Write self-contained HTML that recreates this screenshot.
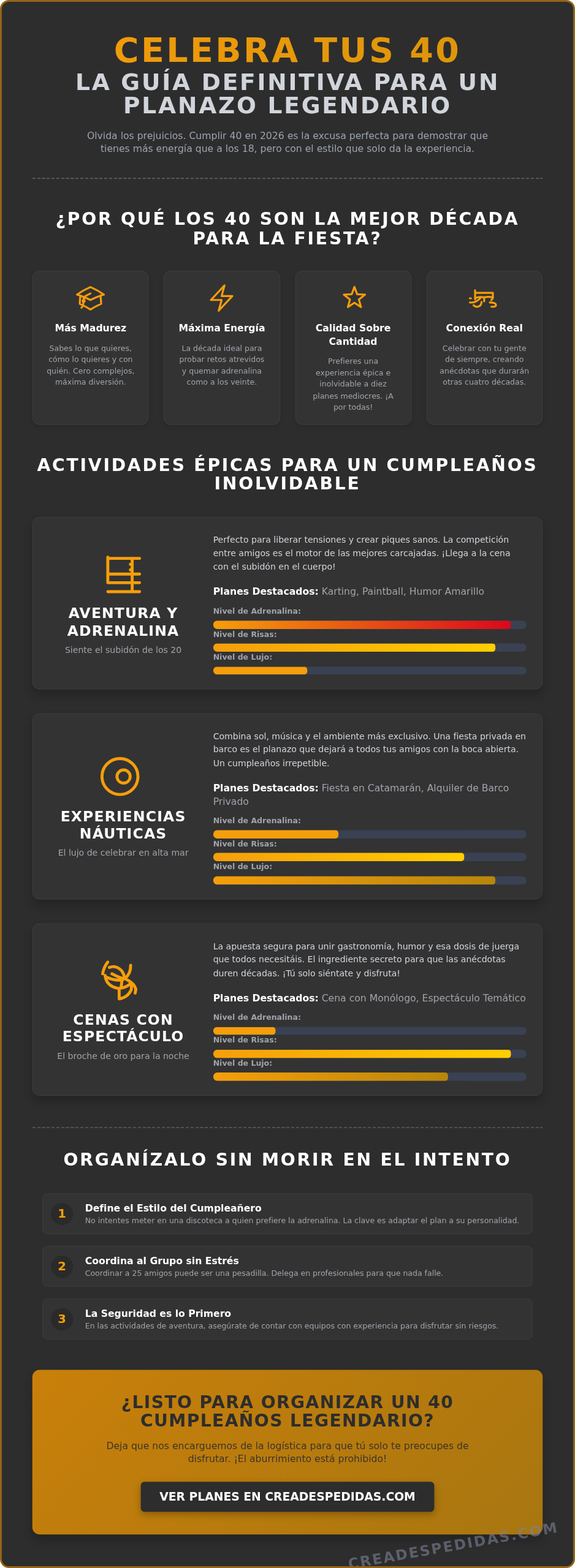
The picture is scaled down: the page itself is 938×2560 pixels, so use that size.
<!DOCTYPE html>
<html lang="es">
<head>
<meta charset="utf-8">
<title>Celebra tus 40 - La guía definitiva para un planazo legendario</title>
<style>
*{box-sizing:border-box;margin:0;padding:0}
html,body{background:#fff}
body{font-family:"DejaVu Sans","Liberation Sans",sans-serif;color:#e5e7eb;width:938px;height:2560px;overflow:hidden}
.scale{width:960px;height:2620px;transform:scale(0.977099);transform-origin:0 0}
.wrap{position:relative;width:960px;height:2620px;background:#2d2d2d;border:3px solid #93651a;border-radius:15px;padding:50px 51.2px;overflow:hidden}
header{text-align:center;margin-bottom:52px}
header::after,hr::after{content:"";display:block;height:2px;background:repeating-linear-gradient(90deg,#525861 0 5.4px,transparent 5.4px 8px)}
header::after{margin-top:37.1px}
h1{font-size:56.8px;line-height:61.3px;margin-bottom:4.06px;font-weight:bold;letter-spacing:3.5px;text-transform:uppercase;color:#e8950c;background:linear-gradient(90deg,#f49c0c,#d9940a);-webkit-background-clip:text;background-clip:text;-webkit-text-fill-color:transparent}
.sub{font-size:38.4px;line-height:1;font-weight:bold;letter-spacing:2.88px;text-transform:uppercase;color:#d1d5db;margin-top:2px}
.lead{font-size:16px;line-height:22.4px;color:#9ca3af;max-width:700px;margin:20.4px auto 0}
h2{font-size:28.8px;line-height:1.1;font-weight:bold;letter-spacing:2.88px;text-transform:uppercase;color:#fff;text-align:center}
.grid{display:grid;grid-template-columns:repeat(4,1fr);gap:25px;margin-top:37.7px}
.card{background:#333;border:1px solid #3e4041;border-radius:12px;padding:19px 20px;text-align:center;height:258px;box-shadow:0 4px 6px rgba(0,0,0,.1)}
.card svg{width:52px;height:52px;display:block;margin:0 auto 13.2px}
.card h3{font-size:16px;line-height:22.4px;font-weight:bold;color:#fff;margin-bottom:11.6px}
.card p{font-size:12.8px;line-height:19.2px;color:#9fa3aa}
.acts{margin-top:51.3px}
.act{display:flex;align-items:center;background:#333;border:1px solid #3e4041;border-radius:12px;padding:25.8px 25.6px 23.9px;margin-top:39.7px;box-shadow:0 10px 15px rgba(0,0,0,.2)}
.acts h2+.act{margin-top:39px}
.act.b{padding-bottom:24.7px}
.act .l{flex:0 0 250px;text-align:center}
.act .l svg{width:80px;height:80px;display:block;margin:0 auto 8.5px}
.act .l h3{font-size:24px;line-height:28.8px;font-weight:bold;letter-spacing:1.2px;text-transform:uppercase;color:#fff}
.act .l p{font-size:14.4px;line-height:20.16px;color:#9fa3aa;margin-top:7.5px}
.act .r{flex:1;margin-left:25px}
.act .r .d{font-size:14.4px;line-height:22.4px;color:#d1d5db}
.act .r .p{font-size:16px;line-height:22.4px;color:#9fa3aa;margin-top:20.2px}
.act .r .p b{color:#fff}
.lv{font-size:12.8px;line-height:17.22px;font-weight:bold;color:#9fa3aa}
.lv.f{margin-top:11.36px}
.bar{height:13.8px;border-radius:6.9px;background:#3a4152;margin-top:7.42px;overflow:hidden}
.bar i{display:block;height:100%;border-radius:5px}
hr{border:0;margin:52.1px 0 38px;height:2px}
.steps{margin:39.1px 17px 0}
.step{display:flex;align-items:center;background:#333;border:1px solid #3e4041;border-radius:8px;height:67.6px;padding:1.4px 12.8px 0;margin-bottom:20.4px}
.step .n{flex:0 0 37px;height:37px;border-radius:50%;background:#2a2a2a;color:#f59e0b;font-weight:bold;font-size:20px;line-height:37.6px;text-align:center;margin-right:20px}
.step h4{font-size:16px;line-height:22.4px;font-weight:bold;color:#fff}
.step p{font-size:12.8px;line-height:19.2px;color:#9fa3aa}
.cta{background:linear-gradient(135deg,#c9800a,#a87610);border-radius:12px;text-align:center;padding:38.5px 100px;margin-top:51.7px;height:275.3px;box-shadow:0 10px 15px rgba(0,0,0,.2)}
.cta h2{color:#2d2d2d;letter-spacing:1.44px}
.cta p{color:rgba(45,45,45,.9);font-size:16px;line-height:22.4px;margin-top:14px}
.btn{display:inline-block;background:#2d2d2d;color:#fff;font-weight:bold;font-size:19.2px;line-height:50px;height:50px;width:490.6px;border-radius:6px;text-transform:uppercase;margin-top:26px;box-shadow:0 4px 12px rgba(0,0,0,.25)}
.wm{position:absolute;left:576.1px;top:2564.5px;font-size:24px;line-height:31.4px;font-weight:bold;letter-spacing:2.3px;color:rgba(125,130,150,.6);transform:rotate(-10deg);transform-origin:50% 50%;white-space:nowrap}
</style>
</head>
<body>
<div class="scale">
<div class="wrap">
<header>
<h1>Celebra tus 40</h1>
<div class="sub">La guía definitiva para un<br>planazo legendario</div>
<p class="lead">Olvida los prejuicios. Cumplir 40 en 2026 es la excusa perfecta para demostrar que tienes más energía que a los 18, pero con el estilo que solo da la experiencia.</p>
</header>

<section>
<h2>¿Por qué los 40 son la mejor década<br>para la fiesta?</h2>
<div class="grid">
<div class="card">
<svg viewBox="0 0 24 24" fill="none" stroke="#f59e0b" stroke-width="1.5" stroke-linecap="round" stroke-linejoin="round"><path d="M4.26 10.147a60.436 60.436 0 00-.491 6.347A48.627 48.627 0 0112 20.904a48.627 48.627 0 018.232-4.41 60.46 60.46 0 00-.491-6.347m-15.482 0a50.57 50.57 0 00-2.658-.813A59.905 59.905 0 0112 3.493a59.902 59.902 0 0110.399 5.84c-.896.248-1.783.52-2.658.814m-15.482 0A50.697 50.697 0 0112 13.489a50.702 50.702 0 017.74-3.342M6.75 15a.75.75 0 100-1.5.75.75 0 000 1.5zm0 0v-3.675A55.378 55.378 0 0112 8.443M6.75 15Q6.4 17.8 5.1 19.5"/></svg>
<h3>Más Madurez</h3>
<p>Sabes lo que quieres, cómo lo quieres y con quién. Cero complejos, máxima diversión.</p>
</div>
<div class="card">
<svg viewBox="0 0 24 24" fill="none" stroke="#f59e0b" stroke-width="1.5" stroke-linecap="round" stroke-linejoin="round"><path d="M3.75 13.5l10.5-11.25L12 10.5h8.25L9.75 21.75 12 13.5H3.75z"/></svg>
<h3>Máxima Energía</h3>
<p>La década ideal para probar retos atrevidos y quemar adrenalina como a los veinte.</p>
</div>
<div class="card">
<svg viewBox="0 0 24 24" fill="none" stroke="#f59e0b" stroke-width="1.5" stroke-linecap="round" stroke-linejoin="round"><path d="M12.80 3.40 L14.92 9.09 L20.98 9.34 L16.22 13.11 L17.85 18.96 L12.80 15.60 L7.75 18.96 L9.38 13.11 L4.62 9.34 L10.68 9.09Z"/></svg>
<h3>Calidad Sobre Cantidad</h3>
<p>Prefieres una experiencia épica e inolvidable a diez planes mediocres. ¡A por todas!</p>
</div>
<div class="card">
<svg viewBox="0 0 24 24" fill="none" stroke="#f59e0b" stroke-width="1.5" stroke-linecap="round" stroke-linejoin="round"><path d="M4.7 6V13M4.7 8H18.4V12M5 12c2-1 4-1 7-.5 2-.8 4-.5 6.4 0M.6 12.2h.9M.6 15.4c2 .3 5-.3 8-3.2M11.7 12v2.5M3.5 17.6c2 2 6 1.5 6.2-2.6M16 15.4c2 0 4.8.3 4.8 2 0 1.2-1.5 1.5-3.5 1.3M18.4 12l-1.200 1.700"/></svg>
<h3>Conexión Real</h3>
<p>Celebrar con tu gente de siempre, creando anécdotas que durarán otras cuatro décadas.</p>
</div>
</div>
</section>

<section class="acts">
<h2>Actividades épicas para un cumpleaños<br>inolvidable</h2>

<div class="act">
<div class="l">
<svg viewBox="0 0 24 24" fill="none" stroke="#f59e0b" stroke-width="1.5" stroke-linecap="round" stroke-linejoin="round"><path d="M4.2 2.7V15.5H20.1M4.2 3.3H20.1M4.2 11.15H20.1M4.2 20H20.1M16.4 3.3V20M15.5 6.2v.1M15.5 9v.1"/></svg>
<h3>Aventura y<br>adrenalina</h3>
<p>Siente el subidón de los 20</p>
</div>
<div class="r">
<p class="d">Perfecto para liberar tensiones y crear piques sanos. La competición entre amigos es el motor de las mejores carcajadas. ¡Llega a la cena con el subidón en el cuerpo!</p>
<p class="p"><b>Planes Destacados:</b> Karting, Paintball, Humor Amarillo</p>
<div class="lv f">Nivel de Adrenalina:</div><div class="bar"><i style="width:95%;background:linear-gradient(90deg,#f59e0b,#d9081c)"></i></div>
<div class="lv">Nivel de Risas:</div><div class="bar"><i style="width:90%;background:linear-gradient(90deg,#f59e0b,#ffce00)"></i></div>
<div class="lv">Nivel de Lujo:</div><div class="bar"><i style="width:30%;background:#f59e0b"></i></div>
</div>
</div>

<div class="act b">
<div class="l">
<svg viewBox="0 0 24 24" fill="none" stroke="#f59e0b" stroke-width="1.5" stroke-linecap="round" stroke-linejoin="round"><circle cx="10.28" cy="10.95" r="9"/><circle cx="12.1" cy="10.95" r="3.3"/></svg>
<h3>Experiencias<br>náuticas</h3>
<p>El lujo de celebrar en alta mar</p>
</div>
<div class="r">
<p class="d">Combina sol, música y el ambiente más exclusivo. Una fiesta privada en barco es el planazo que dejará a todos tus amigos con la boca abierta. Un cumpleaños irrepetible.</p>
<p class="p"><b>Planes Destacados:</b> Fiesta en Catamarán, Alquiler de Barco Privado</p>
<div class="lv f">Nivel de Adrenalina:</div><div class="bar"><i style="width:40%;background:#f59e0b"></i></div>
<div class="lv">Nivel de Risas:</div><div class="bar"><i style="width:80%;background:linear-gradient(90deg,#f59e0b,#ffce00)"></i></div>
<div class="lv">Nivel de Lujo:</div><div class="bar"><i style="width:90%;background:linear-gradient(90deg,#f59e0b,#b8860b)"></i></div>
</div>
</div>

<div class="act">
<div class="l">
<svg viewBox="0 0 24 24" fill="none" stroke="#f59e0b" stroke-width="1.5" stroke-linecap="round" stroke-linejoin="round"><path d="M4.16 1.96Q2.03 4.74 1.64 7.85M2.85 8.67Q3.34 13.91 9.23 15.15Q12.84 15.22 15.78 12.60M4.98 4.68Q8.25 3.27 11.20 6.38Q12.51 8.34 12.67 10.31M6.29 7.85Q8.91 9.33 11.85 10.31M3.83 9.65Q7.27 11.29 11.53 10.96M15.62 3.60Q15.78 7.69 12.67 10.31M13.49 10.64Q17.42 12.60 18.24 15.55L17.91 17.51M9.89 15.22L9.89 20.39Q14.14 19.80 15.94 15.87L16.11 12.93M11.20 11.94L10.87 14.40"/></svg>
<h3>Cenas con<br>espectáculo</h3>
<p>El broche de oro para la noche</p>
</div>
<div class="r">
<p class="d">La apuesta segura para unir gastronomía, humor y esa dosis de juerga que todos necesitáis. El ingrediente secreto para que las anécdotas duren décadas. ¡Tú solo siéntate y disfruta!</p>
<p class="p"><b>Planes Destacados:</b> Cena con Monólogo, Espectáculo Temático</p>
<div class="lv f">Nivel de Adrenalina:</div><div class="bar"><i style="width:20%;background:#f59e0b"></i></div>
<div class="lv">Nivel de Risas:</div><div class="bar"><i style="width:95%;background:linear-gradient(90deg,#f59e0b,#ffce00)"></i></div>
<div class="lv">Nivel de Lujo:</div><div class="bar"><i style="width:75%;background:linear-gradient(90deg,#f59e0b,#b8860b)"></i></div>
</div>
</div>
</section>

<hr>

<section>
<h2>Organízalo sin morir en el intento</h2>
<div class="steps">
<div class="step"><div class="n">1</div><div><h4>Define el Estilo del Cumpleañero</h4><p>No intentes meter en una discoteca a quien prefiere la adrenalina. La clave es adaptar el plan a su personalidad.</p></div></div>
<div class="step"><div class="n">2</div><div><h4>Coordina al Grupo sin Estrés</h4><p>Coordinar a 25 amigos puede ser una pesadilla. Delega en profesionales para que nada falle.</p></div></div>
<div class="step"><div class="n">3</div><div><h4>La Seguridad es lo Primero</h4><p>En las actividades de aventura, asegúrate de contar con equipos con experiencia para disfrutar sin riesgos.</p></div></div>
</div>
</section>

<div class="cta">
<h2>¿Listo para organizar un 40 cumpleaños legendario?</h2>
<p>Deja que nos encarguemos de la logística para que tú solo te preocupes de disfrutar. ¡El aburrimiento está prohibido!</p>
<span class="btn">Ver planes en creadespedidas.com</span>
</div>

<div class="wm">CREADESPEDIDAS.COM</div>
</div>
</div>
</body>
</html>
